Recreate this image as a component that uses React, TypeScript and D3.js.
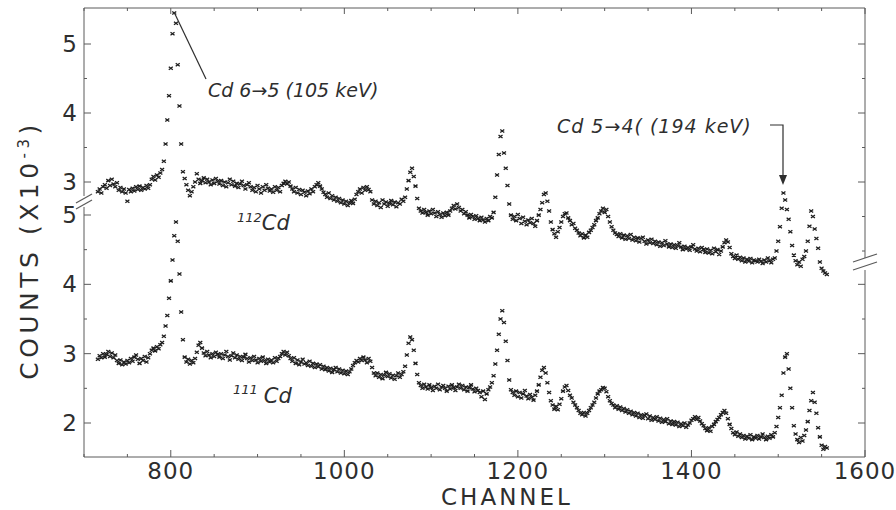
import React from 'react';
import * as d3 from 'd3';

// Channel sampling of both spectra
const CH_START = 716;
const CH_STEP = 2;

// 112Cd spectrum (upper, counts x 10^-3), channels 716..1556 step 2
const cd112: number[] = [
  2.86, 2.90, 2.84, 2.93, 2.96, 2.91, 3.02, 2.95, 3.04, 2.97,
  2.93, 2.99, 2.88, 2.92, 2.86, 2.90, 2.84, 2.72, 2.89, 2.86,
  2.91, 2.87, 2.93, 2.89, 2.94, 2.88, 2.92, 2.90, 2.95, 2.91,
  2.96, 3.04, 3.08, 3.03, 3.10, 3.07, 3.13, 3.18, 3.30, 3.55,
  3.90, 4.25, 4.65, 5.15, 5.45, 5.30, 4.70, 4.10, 3.55, 3.15,
  3.05, 2.96, 2.88, 2.80, 2.86, 2.93, 3.00, 3.12, 3.04, 2.98,
  3.02, 3.06, 2.99, 3.04, 3.00, 2.96, 3.03, 2.98, 3.05, 3.01,
  2.97, 3.02, 2.95, 3.00, 2.93, 2.99, 3.04, 2.96, 3.01, 2.94,
  2.98, 2.92, 2.97, 3.01, 2.95, 2.90, 2.96, 2.99, 2.93, 2.88,
  2.92, 2.86, 2.95, 2.90, 2.84, 2.93, 2.88, 2.96, 2.91, 2.87,
  2.90, 2.85, 2.93, 2.88, 2.92, 2.86, 2.95, 2.98, 3.01, 2.97,
  3.00, 2.94, 2.90, 2.86, 2.92, 2.84, 2.89, 2.82, 2.88, 2.85,
  2.80, 2.87, 2.83, 2.90, 2.86, 2.93, 2.96, 2.99, 2.94, 2.90,
  2.85, 2.82, 2.78, 2.84, 2.76, 2.80, 2.74, 2.78, 2.72, 2.76,
  2.70, 2.74, 2.68, 2.72, 2.66, 2.70, 2.73, 2.69, 2.75, 2.82,
  2.86, 2.90, 2.84, 2.92, 2.88, 2.93, 2.89, 2.86, 2.74, 2.68,
  2.72, 2.66, 2.70, 2.63, 2.74, 2.68, 2.71, 2.65, 2.69, 2.73,
  2.67, 2.71, 2.64, 2.70, 2.68, 2.75, 2.72, 2.78, 2.90, 3.02,
  3.14, 3.20, 3.08, 2.94, 2.76, 2.62, 2.58, 2.55, 2.60, 2.56,
  2.52, 2.58, 2.54, 2.60, 2.55, 2.50, 2.57, 2.53, 2.49, 2.55,
  2.51, 2.56, 2.52, 2.58, 2.62, 2.66, 2.61, 2.68, 2.63, 2.58,
  2.60, 2.54, 2.57, 2.52, 2.48, 2.53, 2.50, 2.46, 2.51, 2.47,
  2.44, 2.49, 2.45, 2.42, 2.47, 2.44, 2.50, 2.48, 2.56, 2.78,
  3.10, 3.40, 3.66, 3.74, 3.42, 3.20, 2.95, 2.68, 2.52, 2.46,
  2.50, 2.44, 2.53, 2.47, 2.40, 2.49, 2.43, 2.38, 2.45, 2.41,
  2.47, 2.40, 2.36, 2.44, 2.52, 2.60, 2.70, 2.82, 2.84, 2.72,
  2.58, 2.42, 2.31, 2.25, 2.20, 2.28, 2.34, 2.42, 2.50, 2.54,
  2.55, 2.48, 2.44, 2.38, 2.40, 2.33, 2.30, 2.26, 2.22, 2.25,
  2.19, 2.23, 2.20, 2.27, 2.30, 2.34, 2.38, 2.44, 2.48, 2.54,
  2.58, 2.62, 2.56, 2.60, 2.50, 2.42, 2.35, 2.30, 2.26, 2.24,
  2.21, 2.25, 2.19, 2.23, 2.17, 2.22, 2.18, 2.24, 2.16, 2.20,
  2.15, 2.19, 2.13, 2.18, 2.20, 2.14, 2.10, 2.16, 2.12, 2.17,
  2.11, 2.14, 2.09, 2.13, 2.07, 2.12, 2.08, 2.15, 2.10, 2.06,
  2.10, 2.05, 2.09, 2.04, 2.08, 2.12, 2.06, 2.02, 2.07, 2.03,
  2.05, 2.01, 2.06, 2.09, 2.03, 2.00, 2.04, 1.99, 2.05, 2.02,
  1.98, 2.03, 1.97, 2.01, 1.96, 2.04, 1.99, 2.02, 1.95, 2.00,
  2.06, 2.12, 2.16, 2.13, 2.05, 1.96, 1.92, 1.89, 1.94, 1.88,
  1.91, 1.86, 1.90, 1.84, 1.88, 1.85, 1.89, 1.83, 1.87, 1.86,
  1.84, 1.88, 1.85, 1.82, 1.87, 1.84, 1.90, 1.86, 1.83, 1.88,
  1.90, 2.00, 2.14, 2.35, 2.62, 2.84, 2.74, 2.60, 2.46, 2.28,
  2.08, 1.94, 1.86, 1.80, 1.84, 1.78, 1.88, 1.92, 2.00, 2.14,
  2.36, 2.58, 2.50, 2.32, 2.18, 2.04, 1.84, 1.75, 1.71, 1.68,
  1.66,
];

// 111Cd spectrum (lower, counts x 10^-3), channels 716..1556 step 2
const cd111: number[] = [
  2.92, 2.97, 2.94, 3.00, 2.95, 2.99, 3.03, 2.96, 3.01, 2.94,
  2.98, 2.90, 2.86, 2.91, 2.84, 2.88, 2.85, 2.90, 2.87, 2.93,
  2.89, 2.95, 2.98, 2.92, 2.86, 2.93, 2.90, 2.96, 2.88, 2.94,
  3.00, 3.05, 3.08, 3.04, 3.10, 3.07, 3.13, 3.16, 3.25, 3.40,
  3.55, 3.80, 4.05, 4.35, 4.70, 4.90, 4.62, 4.15, 3.60, 3.20,
  2.95, 2.88, 2.92, 2.85, 2.90, 2.87, 2.93, 3.02, 3.12, 3.16,
  3.08, 3.01, 2.97, 3.03, 2.98, 2.94, 3.00, 2.96, 3.02, 2.99,
  2.95, 3.00, 2.93, 2.98, 3.03, 2.96, 2.91, 2.97, 3.01, 2.94,
  2.98, 2.92, 2.96, 2.90, 2.95, 2.99, 2.93, 2.88, 2.94, 2.90,
  2.96, 2.91, 2.87, 2.93, 2.89, 2.95, 2.90, 2.86, 2.92, 2.88,
  2.91, 2.87, 2.94, 2.89, 2.93, 2.96, 3.00, 3.03, 2.98, 3.02,
  2.97, 2.93, 2.89, 2.94, 2.86, 2.91, 2.84, 2.88, 2.92, 2.85,
  2.87, 2.83, 2.89, 2.82, 2.86, 2.80, 2.85, 2.81, 2.84, 2.78,
  2.82, 2.77, 2.80, 2.75, 2.79, 2.73, 2.77, 2.80, 2.74, 2.78,
  2.72, 2.76, 2.71, 2.75, 2.70, 2.74, 2.78, 2.83, 2.87, 2.90,
  2.88, 2.93, 2.90, 2.95, 2.91, 2.87, 2.93, 2.89, 2.80, 2.72,
  2.68, 2.72, 2.66, 2.70, 2.64, 2.69, 2.73, 2.67, 2.71, 2.65,
  2.69, 2.63, 2.68, 2.72, 2.66, 2.70, 2.74, 2.82, 2.98, 3.15,
  3.24, 3.20, 3.05, 2.86, 2.70, 2.58, 2.54, 2.50, 2.56, 2.52,
  2.49, 2.55, 2.51, 2.47, 2.53, 2.50, 2.56, 2.48, 2.52, 2.54,
  2.50, 2.46, 2.53, 2.49, 2.55, 2.51, 2.47, 2.52, 2.56, 2.50,
  2.54, 2.48, 2.52, 2.46, 2.51, 2.55, 2.49, 2.45, 2.50, 2.47,
  2.44, 2.38, 2.46, 2.34, 2.42, 2.48, 2.52, 2.58, 2.68, 2.85,
  3.05, 3.28, 3.50, 3.62, 3.45, 3.18, 2.90, 2.62, 2.48, 2.44,
  2.40, 2.46, 2.38, 2.44, 2.36, 2.42, 2.47, 2.39, 2.35, 2.41,
  2.37, 2.33, 2.40, 2.46, 2.55, 2.66, 2.76, 2.80, 2.72, 2.58,
  2.44, 2.32, 2.26, 2.20, 2.24, 2.19, 2.27, 2.35, 2.46, 2.52,
  2.54, 2.47, 2.40, 2.36, 2.30, 2.26, 2.22, 2.18, 2.14, 2.12,
  2.15, 2.10, 2.14, 2.18, 2.22, 2.26, 2.30, 2.36, 2.42, 2.46,
  2.48, 2.51, 2.50, 2.45, 2.38, 2.32, 2.28, 2.26, 2.22, 2.25,
  2.20, 2.23, 2.18, 2.21, 2.16, 2.19, 2.14, 2.17, 2.12, 2.15,
  2.10, 2.14, 2.08, 2.12, 2.07, 2.11, 2.13, 2.06, 2.10, 2.04,
  2.08, 2.05, 2.09, 2.03, 2.07, 2.01, 2.05, 2.02, 2.06, 1.99,
  2.03, 1.98, 2.02, 1.97, 2.01, 1.95, 1.99, 1.96, 2.00, 1.94,
  1.97, 2.00, 2.04, 2.06, 2.09, 2.05, 2.08, 2.03, 1.99, 1.96,
  1.92, 1.89, 1.93, 1.88, 1.95, 1.98, 2.02, 2.05, 2.08, 2.12,
  2.15, 2.18, 2.14, 2.06, 1.98, 1.92, 1.86, 1.83, 1.87, 1.81,
  1.84, 1.79, 1.82, 1.77, 1.81, 1.78, 1.83, 1.76, 1.80, 1.78,
  1.82, 1.77, 1.80, 1.84, 1.79, 1.76, 1.81, 1.78, 1.83, 1.80,
  1.86, 1.95, 2.08, 2.22, 2.40, 2.72, 2.95, 3.00, 2.78, 2.50,
  2.22, 1.96, 1.84, 1.76, 1.72, 1.79, 1.74, 1.82, 1.90, 2.02,
  2.18, 2.32, 2.44, 2.30, 2.14, 1.93, 1.80, 1.68, 1.62, 1.66,
  1.64,
];

const xMajorTicks = [800, 1000, 1200, 1400, 1600];
const xMinorTicks = [700, 750, 850, 900, 950, 1050, 1100, 1150, 1250, 1300, 1350, 1450, 1500, 1550];
const upperMajor = [5, 4, 3];
const upperMinor = [4.5, 3.5];
const lowerMajor = [5, 4, 3, 2];
const lowerMinor = [4.5, 3.5, 2.5];
const rightUpperMajor = [5, 4, 3];
const rightUpperMinor = [4.5, 3.5, 2.5, 2];
const rightLowerMajor = [4, 3, 2];
const rightLowerMinor = [3.5, 2.5];

const W = 896;
const H = 510;
const TOP = 8;
const BOTTOM = 457;
const LEFT = 84;
const RIGHT = 865;

const FONT = '"DejaVu Sans", "Liberation Sans", sans-serif';
const INK = '#2e2e2e';
const MARK = '#1c1c1c';
const AXIS = '#5a5a5a';

const markPath = 'M-2,-1.5L2,1.5M-2,1.5L2,-1.5';

export default function App() {
  const x = d3.scaleLinear().domain([700, 1600]).range([LEFT, RIGHT]);
  const yU = d3.scaleLinear().domain([3, 5]).range([182, 44]);
  const yL = d3.scaleLinear().domain([2, 5]).range([423, 215]);

  const chan = (i: number) => CH_START + i * CH_STEP;

  const leftBreakY = 201;
  const rightBreakY = 264;

  return (
    <svg
      width={W}
      height={H}
      viewBox={`0 0 ${W} ${H}`}
      style={{ position: 'absolute', left: 0, top: 0, background: '#fff' }}
      fontFamily={FONT}
    >
      <rect x={0} y={0} width={W} height={H} fill="#fff" />

      {/* frame: top and bottom */}
      <line x1={LEFT} x2={RIGHT} y1={TOP} y2={TOP} stroke={AXIS} strokeWidth={1} />
      <line x1={LEFT} x2={RIGHT} y1={BOTTOM} y2={BOTTOM} stroke={AXIS} strokeWidth={1} />
      {/* left axis with break */}
      <line x1={LEFT} x2={LEFT} y1={TOP} y2={leftBreakY - 5} stroke={AXIS} strokeWidth={1} />
      <line x1={LEFT} x2={LEFT} y1={leftBreakY + 6} y2={BOTTOM} stroke={AXIS} strokeWidth={1} />
      <line x1={LEFT - 8} x2={LEFT + 8} y1={leftBreakY + 2} y2={leftBreakY - 7} stroke={AXIS} strokeWidth={1.2} />
      <line x1={LEFT - 8} x2={LEFT + 8} y1={leftBreakY + 8} y2={leftBreakY - 1} stroke={AXIS} strokeWidth={1.2} />
      {/* right axis with break */}
      <line x1={RIGHT} x2={RIGHT} y1={TOP} y2={rightBreakY - 6} stroke={AXIS} strokeWidth={1} />
      <line x1={RIGHT} x2={RIGHT} y1={rightBreakY + 6} y2={BOTTOM} stroke={AXIS} strokeWidth={1} />
      <line x1={RIGHT - 12} x2={RIGHT + 12} y1={rightBreakY - 2} y2={rightBreakY - 10} stroke={AXIS} strokeWidth={1.2} />
      <line x1={RIGHT - 12} x2={RIGHT + 12} y1={rightBreakY + 6} y2={rightBreakY - 2} stroke={AXIS} strokeWidth={1.2} />

      {/* x ticks bottom and top */}
      {xMajorTicks.map((t) => (
        <g key={'xm' + t}>
          <line x1={x(t)} x2={x(t)} y1={BOTTOM} y2={BOTTOM - 7} stroke={AXIS} />
          <line x1={x(t)} x2={x(t)} y1={TOP} y2={TOP + 6} stroke={AXIS} />
          <text x={x(t)} y={479} textAnchor="middle" fontSize={23} fill={INK} letterSpacing={1}>
            {t}
          </text>
        </g>
      ))}
      {xMinorTicks.map((t) => (
        <g key={'xn' + t}>
          <line x1={x(t)} x2={x(t)} y1={BOTTOM} y2={BOTTOM - 3} stroke={AXIS} />
          <line x1={x(t)} x2={x(t)} y1={TOP} y2={TOP + 3} stroke={AXIS} />
        </g>
      ))}

      {/* left y ticks */}
      {upperMajor.map((t) => (
        <g key={'um' + t}>
          <line x1={LEFT} x2={LEFT + 7} y1={yU(t)} y2={yU(t)} stroke={AXIS} />
          <text x={LEFT - 7} y={yU(t) + 8} textAnchor="end" fontSize={23} fill={INK}>
            {t}
          </text>
        </g>
      ))}
      {upperMinor.map((t) => (
        <line key={'un' + t} x1={LEFT} x2={LEFT + 3} y1={yU(t)} y2={yU(t)} stroke={AXIS} />
      ))}
      {lowerMajor.map((t) => (
        <g key={'lm' + t}>
          <line x1={LEFT} x2={LEFT + 7} y1={yL(t)} y2={yL(t)} stroke={AXIS} />
          <text x={LEFT - 7} y={yL(t) + 8} textAnchor="end" fontSize={23} fill={INK}>
            {t}
          </text>
        </g>
      ))}
      {lowerMinor.map((t) => (
        <line key={'ln' + t} x1={LEFT} x2={LEFT + 3} y1={yL(t)} y2={yL(t)} stroke={AXIS} />
      ))}

      {/* right y ticks */}
      {rightUpperMajor.map((t) => (
        <line key={'rum' + t} x1={RIGHT} x2={RIGHT - 7} y1={yU(t)} y2={yU(t)} stroke={AXIS} />
      ))}
      {rightUpperMinor.map((t) => (
        <line key={'run' + t} x1={RIGHT} x2={RIGHT - 3} y1={yU(t)} y2={yU(t)} stroke={AXIS} />
      ))}
      {rightLowerMajor.map((t) => (
        <line key={'rlm' + t} x1={RIGHT} x2={RIGHT - 7} y1={yL(t)} y2={yL(t)} stroke={AXIS} />
      ))}
      {rightLowerMinor.map((t) => (
        <line key={'rln' + t} x1={RIGHT} x2={RIGHT - 3} y1={yL(t)} y2={yL(t)} stroke={AXIS} />
      ))}

      {/* data */}
      <g stroke={MARK} strokeWidth={1.3} fill="none">
        {cd112.map((v, i) => (
          <path key={'u' + i} d={markPath} transform={`translate(${x(chan(i)).toFixed(2)},${Math.max(TOP + 3, yU(v)).toFixed(2)})`} />
        ))}
        {cd111.map((v, i) => (
          <path key={'l' + i} d={markPath} transform={`translate(${x(chan(i)).toFixed(2)},${yL(v).toFixed(2)})`} />
        ))}
      </g>

      {/* annotations */}
      <line x1={206} y1={79} x2={174} y2={12} stroke={INK} strokeWidth={1.2} />
      <text x={208} y={97} fontSize={19} fontStyle="italic" fill={INK}>
        Cd 6→5 (105 keV)
      </text>

      <text x={557} y={133} fontSize={19} fontStyle="italic" fill={INK} letterSpacing={1}>
        Cd 5→4( (194 keV)
      </text>
      <path d="M770,125 H783 V177" stroke={INK} strokeWidth={1.2} fill="none" />
      <path d="M779,175 L787,175 L783,185 Z" fill={INK} />

      <text x={237} y={230} fontStyle="italic" fill={INK}>
        <tspan fontSize={13} dy={-8}>112</tspan>
        <tspan fontSize={21} dy={8}>Cd</tspan>
      </text>
      <text x={233} y={403} fontStyle="italic" fill={INK}>
        <tspan fontSize={13} dy={-9}>111</tspan>
        <tspan fontSize={21} dy={9} dx={6}>Cd</tspan>
      </text>

      {/* axis titles */}
      <text x={507} y={505} textAnchor="middle" fontSize={23} fill={INK} letterSpacing={3}>
        CHANNEL
      </text>
      <text transform="translate(38,250) rotate(-90)" textAnchor="middle" fontSize={25} fill={INK} letterSpacing={4.5}>
        COUNTS (X10<tspan fontSize={15} dy={-9}>-3</tspan>
        <tspan dy={9}>)</tspan>
      </text>
    </svg>
  );
}
